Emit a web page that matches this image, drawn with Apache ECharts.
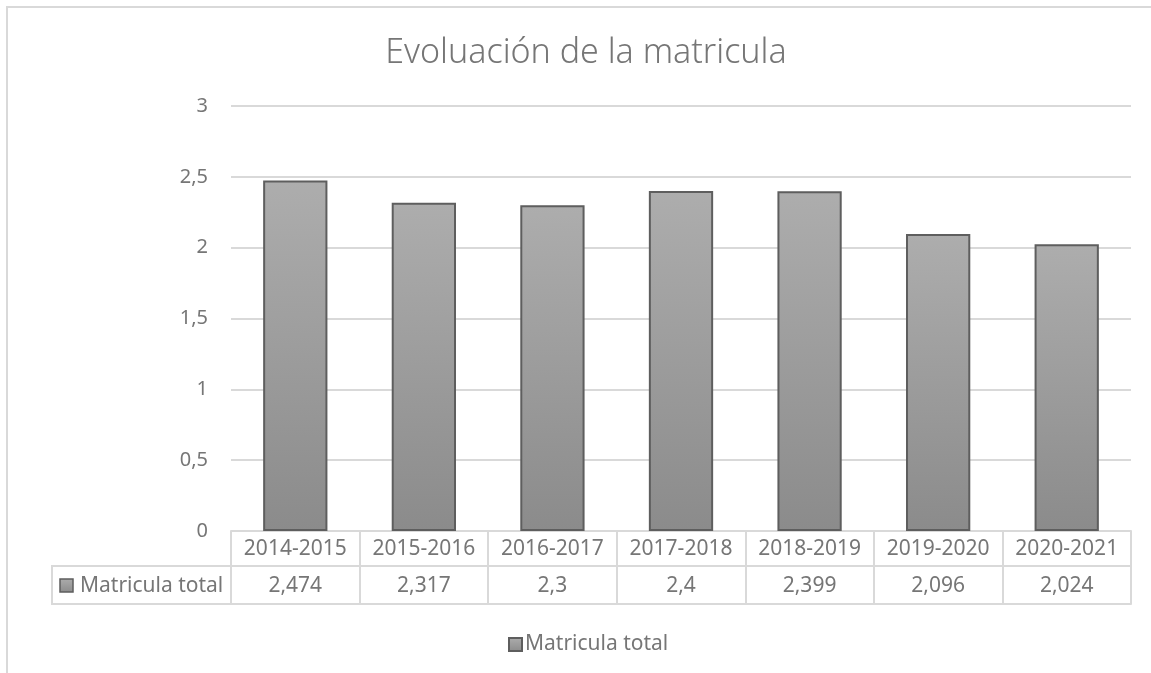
<!DOCTYPE html>
<html>
<head>
<meta charset="utf-8">
<script src="https://cdn.jsdelivr.net/npm/echarts@6/dist/echarts.min.js"></script>
<style>
  html, body { margin: 0; padding: 0; background: #fff; }
  #chart { width: 1151px; height: 673px; }
</style>
</head>
<body>
<div id="chart"></div>
<script>
// data
const categories = ['2014-2015', '2015-2016', '2016-2017', '2017-2018', '2018-2019', '2019-2020', '2020-2021'];
const matricula = [2.474, 2.317, 2.3, 2.4, 2.399, 2.096, 2.024];
const seriesName = 'Matricula total';
const titleText = 'Evoluación de la matricula';

const txt = '#767676';
const line = '#d9d9d9';
const font = 'Noto Sans';
const comma = v => String(v).replace('.', ',');

const barFill = new echarts.graphic.LinearGradient(0, 0, 0, 1, [
  { offset: 0, color: '#adadad' },
  { offset: 1, color: '#8b8b8b' }
]);

const myChart = echarts.init(document.getElementById('chart'), null, { renderer: 'canvas' });

const option = {
  animation: false,
  textStyle: { fontFamily: font },
  title: {
    text: titleText,
    left: 581,
    textAlign: 'center',
    top: 31,
    textStyle: { fontFamily: font, fontSize: 34, fontWeight: 300, color: txt }
  },
  legend: {
    bottom: 13,
    left: 503,
    icon: 'rect',
    itemWidth: 13,
    itemHeight: 13,
    itemGap: 6,
    textStyle: { fontFamily: font, fontSize: 21, color: txt, padding: [0, 0, 0, -2] },
    data: [seriesName]
  },
  grid: { left: 231, right: 20, top: 106, bottom: 142, containLabel: false },
  yAxis: {
    type: 'value',
    min: 0,
    max: 3,
    interval: 0.5,
    axisLine: { show: false },
    axisTick: { show: false },
    axisLabel: { margin: 23, fontSize: 20, color: txt, fontFamily: font, formatter: v => comma(v) },
    splitLine: { lineStyle: { color: line, width: 2 } }
  },
  xAxis: [
    {
      type: 'category',
      data: categories,
      position: 'bottom',
      axisLine: { lineStyle: { color: line, width: 2 } },
      axisTick: { show: true, interval: 0, length: 73, lineStyle: { color: line, width: 2 } },
      axisLabel: { interval: 0, margin: 8, fontSize: 21, color: txt, fontFamily: font }
    },
    {
      type: 'category',
      data: matricula.map(comma),
      position: 'bottom',
      offset: 35,
      axisLine: { lineStyle: { color: line, width: 2 } },
      axisTick: { show: false },
      axisLabel: { interval: 0, margin: 10, fontSize: 21, color: txt, fontFamily: font }
    },
    {
      type: 'category',
      data: categories,
      position: 'bottom',
      offset: 73,
      axisLine: { lineStyle: { color: line, width: 2 } },
      axisTick: { show: false },
      axisLabel: { show: false }
    }
  ],
  series: [
    {
      name: seriesName,
      type: 'bar',
      xAxisIndex: 0,
      data: matricula,
      barWidth: '50%',
      itemStyle: { color: barFill, borderColor: '#5e5e5e', borderWidth: 2 }
    }
  ],
  graphic: [
    {
      type: 'rect',
      z: -1,
      shape: { x: 7, y: 7, width: 1300, height: 800 },
      style: { fill: 'none', stroke: line, lineWidth: 2 }
    },
    {
      type: 'rect',
      shape: { x: 52, y: 566, width: 179, height: 38 },
      style: { fill: 'none', stroke: line, lineWidth: 2 }
    },
    {
      type: 'rect',
      shape: { x: 60, y: 579, width: 13, height: 13 },
      style: { fill: barFill, stroke: '#5e5e5e', lineWidth: 1.5 }
    },
    {
      type: 'text',
      x: 80,
      y: 586,
      style: { text: seriesName, font: '21px "Noto Sans"', fill: txt, textVerticalAlign: 'middle' }
    }
  ]
};

option && myChart.setOption(option);
</script>
</body>
</html>
